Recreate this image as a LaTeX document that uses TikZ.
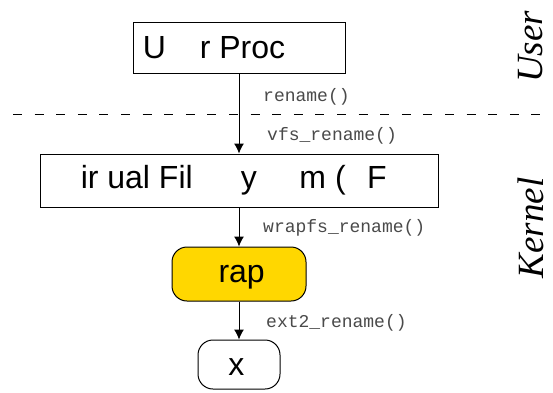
\documentclass[tikz,border=0pt]{standalone}
\usepackage{fontspec}
\setmainfont{Liberation Sans}
\newfontfamily\boxfont{Liberation Sans}
\newfontfamily\callfont{Liberation Mono}
\newfontfamily\sidefont{Liberation Serif}
\usetikzlibrary{arrows.meta}
\definecolor{wrapgold}{HTML}{FFD700}
\definecolor{callgrey}{HTML}{4A4A4A}
\tikzset{
  layerbox/.style={draw=black, line width=1pt, inner sep=0pt, align=center,
    font=\boxfont\fontsize{32}{36}\selectfont},
  fsbox/.style={layerbox, rounded corners=15pt},
  callname/.style={anchor=west, inner sep=0pt, text=callgrey,
    font=\callfont\fontsize{18}{20}\selectfont},
  sidename/.style={rotate=90, inner sep=0pt,
    font=\sidefont\itshape\fontsize{37}{40}\selectfont},
  callarrow/.style={draw=black, line width=1pt, -{Latex[length=10pt,width=10pt]}},
  boundary/.style={draw=black, line width=1pt, dash pattern=on 9pt off 12.6pt}
}
\begin{document}
\begin{tikzpicture}[x=1pt, y=-1pt]
  \useasboundingbox (0,0) rectangle (553,392);
  \fill[white] (0,0) rectangle (553,392);

  % user / kernel boundary
  \coordinate (bl) at (13,114);
  \coordinate (br) at (541,114);
  \draw[boundary] (bl) -- (br);

  % layers
  \node[layerbox, minimum width=212pt, minimum height=51pt] (user) at (239,47.5)
    {U\phantom{se}r Proc\phantom{ess}};
  \node[layerbox, minimum width=398pt, minimum height=53pt] (vfs) at (239,180.5)
    {\phantom{V}ir\phantom{t}ual Fil\phantom{e} \phantom{S}y\phantom{ste}m (\phantom{V}F\phantom{S)}};
  \node[fsbox, fill=wrapgold, minimum width=134pt, minimum height=54pt] (wrap) at (239,274)
    {\phantom{W}rap\phantom{fs}};
  \node[fsbox, minimum width=82pt, minimum height=49pt] (ext) at (239,364.5)
    {\phantom{E}x\phantom{t2}};

  % call chain
  \draw[callarrow] (user.south) -- (vfs.north);
  \draw[callarrow] (vfs.south) -- (wrap.north);
  \draw[callarrow] (wrap.south) -- (ext.north);

  % function names
  \node[callname] (c1) at (263,97) {rename()};
  \node[callname] (c2) at (267,136) {vfs\_rename()};
  \node[callname] (c3) at (263,228) {wrapfs\_rename()};
  \node[callname] (c4) at (266,323) {ext2\_rename()};

  % side labels
  \node[sidename] (su) at (531,47) {User};
  \node[sidename] (sk) at (531,228) {Kernel};
\end{tikzpicture}
\end{document}
